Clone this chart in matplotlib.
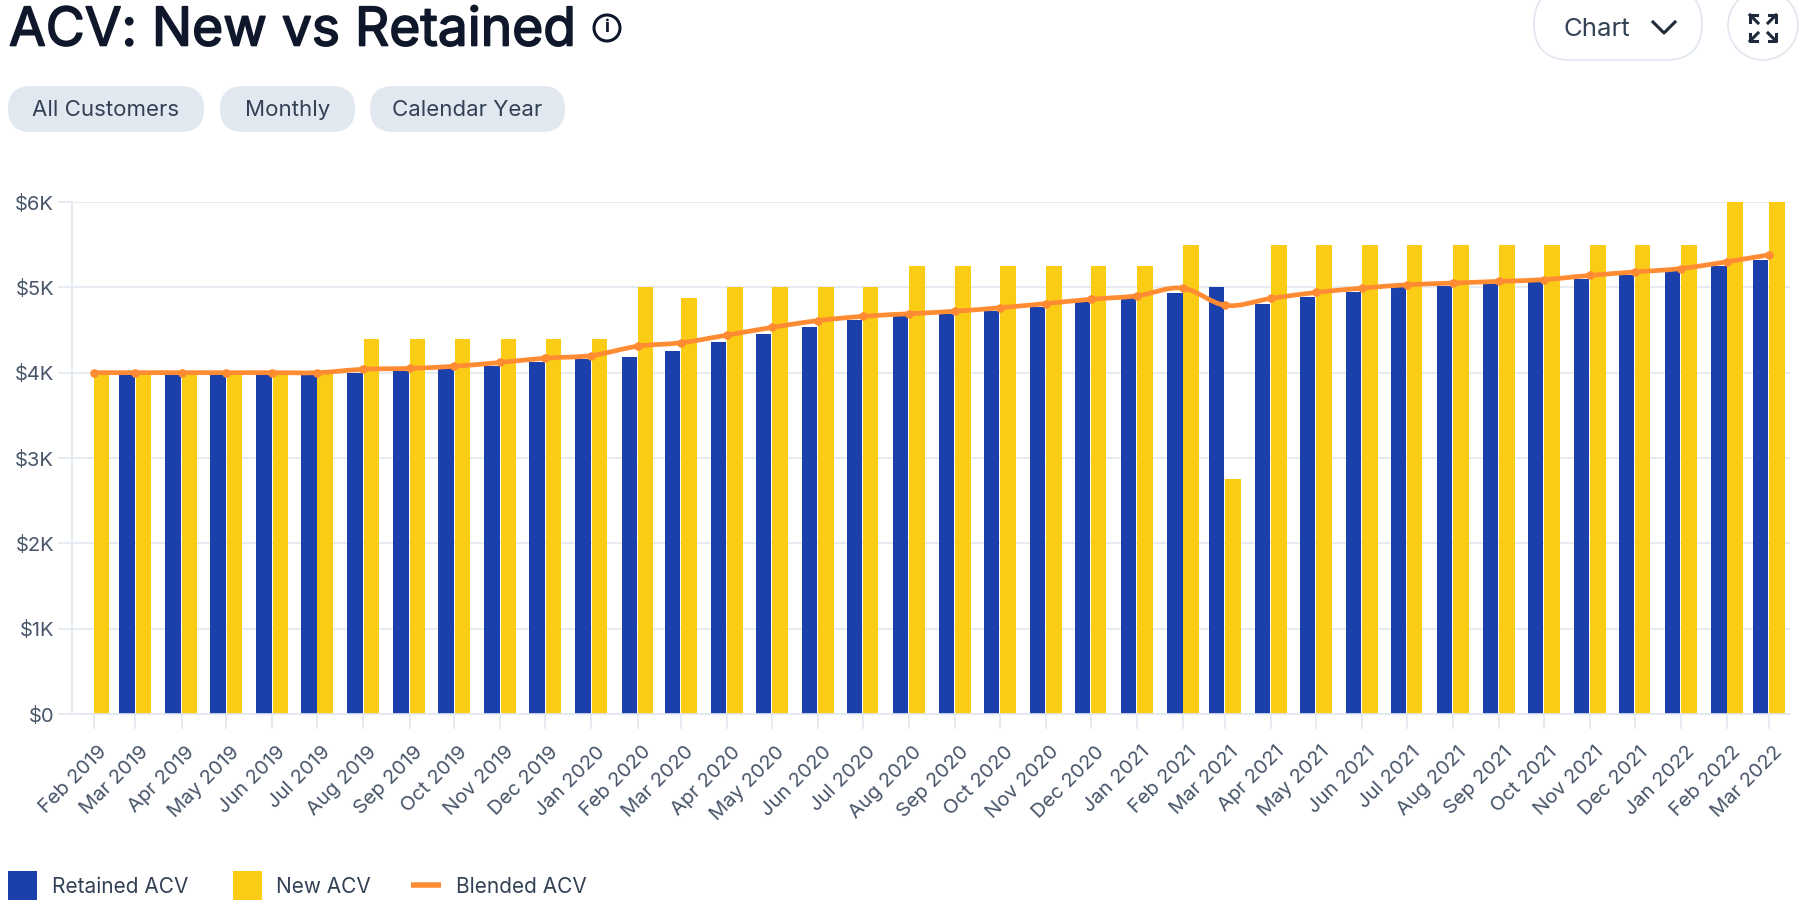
import numpy as np
import pandas as pd
import matplotlib
matplotlib.use('Agg')
import matplotlib.pyplot as plt
import matplotlib.patheffects as pe
from matplotlib.patches import FancyBboxPatch, Circle, Rectangle, PathPatch
from matplotlib.path import Path
from matplotlib.transforms import ScaledTranslation

plt.rcParams['font.family'] = ['Inter', 'DejaVu Sans']

months = ['Feb 2019', 'Mar 2019', 'Apr 2019', 'May 2019', 'Jun 2019', 'Jul 2019', 'Aug 2019', 'Sep 2019',
          'Oct 2019', 'Nov 2019', 'Dec 2019', 'Jan 2020', 'Feb 2020', 'Mar 2020', 'Apr 2020', 'May 2020',
          'Jun 2020', 'Jul 2020', 'Aug 2020', 'Sep 2020', 'Oct 2020', 'Nov 2020', 'Dec 2020', 'Jan 2021',
          'Feb 2021', 'Mar 2021', 'Apr 2021', 'May 2021', 'Jun 2021', 'Jul 2021', 'Aug 2021', 'Sep 2021',
          'Oct 2021', 'Nov 2021', 'Dec 2021', 'Jan 2022', 'Feb 2022', 'Mar 2022']
retained = [0, 3975, 3975, 3975, 3975, 3975, 4000, 4020, 4050, 4080, 4120, 4160, 4180, 4250, 4360, 4450,
            4540, 4620, 4660, 4690, 4720, 4770, 4830, 4870, 4930, 5000, 4810, 4890, 4950, 5000, 5020, 5040,
            5060, 5100, 5150, 5190, 5250, 5320]
new = [4000, 4000, 4000, 4000, 4000, 4000, 4400, 4400, 4400, 4400, 4400, 4400, 5000, 4875, 5000, 5000,
       5000, 5000, 5250, 5250, 5250, 5250, 5250, 5250, 5500, 2750, 5500, 5500, 5500, 5500, 5500, 5500,
       5500, 5500, 5500, 5500, 6000, 6000]
blended = [4000, 4000, 4000, 4000, 4000, 4000, 4040, 4050, 4075, 4120, 4170, 4200, 4310, 4350, 4440, 4530,
           4610, 4660, 4690, 4720, 4760, 4810, 4860, 4900, 4990, 4790, 4870, 4940, 4990, 5030, 5050, 5070,
           5090, 5140, 5180, 5220, 5300, 5380]
yticks = [0, 1000, 2000, 3000, 4000, 5000, 6000]
ytick_labels = ['$0', '$1K', '$2K', '$3K', '$4K', '$5K', '$6K']
filters = ['All Customers', 'Monthly', 'Calendar Year']

BLUE = '#1B3FAB'
YELLOW = '#FACC15'
ORANGE = '#FF8C33'
GRID = '#E2E8F0'
W, H = 1800, 907

fig = plt.figure(figsize=(W / 100, H / 100), dpi=100, facecolor='white')

# chart area, in pixels from the top left
left, right, top, bottom = 72, 1790, 202, 714
ax = fig.add_axes([left / W, 1 - bottom / H, (right - left) / W, (bottom - top) / H])

# the x axis is a real time scale, so Feb is a bit narrower than the other months
dates = pd.to_datetime(months, format='%b %Y')
x = np.array((dates - dates[0]).days, dtype=float)
bar_w = 10.4
ax.bar(x - 5.6, retained, bar_w, color=BLUE, zorder=2)
ax.bar(x + 5.4, new, bar_w, color=YELLOW, zorder=2)


# smooth line through the points
def smooth_path(xs, ys):
    ys = np.asarray(ys, dtype=float)
    verts = [(xs[0], ys[0])]
    codes = [Path.MOVETO]
    slope = np.gradient(ys, xs)
    for i in range(len(xs) - 1):
        k = (xs[i + 1] - xs[i]) / 3
        verts.append((xs[i] + k, ys[i] + k * slope[i]))
        verts.append((xs[i + 1] - k, ys[i + 1] - k * slope[i + 1]))
        verts.append((xs[i + 1], ys[i + 1]))
        codes += [Path.CURVE4] * 3
    return Path(verts, codes)


ax.add_patch(PathPatch(smooth_path(x, blended), fill=False, edgecolor=ORANGE, lw=3.4, zorder=3, clip_on=False))
ax.plot(x, blended, ls='none', marker='o', ms=6.2, color=ORANGE, mew=0, zorder=4, clip_on=False)

ax.set_xlim(x[0] - 14.5, x[-1] + 14.2)
ax.set_ylim(0, 6000)
ax.set_xticks(x)
ax.set_xticklabels(months, rotation=45, ha='right', rotation_mode='anchor', fontsize=14.5, color='#475569')
ax.set_yticks(yticks)
ax.set_yticklabels(ytick_labels, fontsize=14.5, color='#475569')
ax.tick_params(axis='x', length=10.8, width=1.2, color=GRID, pad=10)
ax.tick_params(axis='y', length=10, width=1.2, color=GRID, pad=3)
ax.grid(axis='y', color=GRID, lw=1.2, zorder=0)
ax.set_axisbelow(True)
for side in ['top', 'right']:
    ax.spines[side].set_visible(False)
for side in ['left', 'bottom']:
    ax.spines[side].set_color(GRID)
    ax.spines[side].set_linewidth(1.2)

# nudge the rotated labels right a little
nudge = ScaledTranslation(3 / 72, 0, fig.dpi_scale_trans)
for lab in ax.get_xticklabels():
    lab.set_transform(lab.get_transform() + nudge)

# page furniture drawn in pixel coordinates
ui = fig.add_axes([0, 0, 1, 1], zorder=5)
ui.set_xlim(0, W)
ui.set_ylim(H, 0)
ui.axis('off')
ui.patch.set_alpha(0)

title = ui.text(9, 31, 'ACV: New vs Retained', fontsize=38.4, color='#0F172A', va='center', ha='left')
title.set_path_effects([pe.withStroke(linewidth=1.2, foreground='#0F172A')])
ui.add_patch(Circle((607, 28), 13, fill=False, ec='#0F172A', lw=2.2))
ui.text(607, 28, 'i', fontsize=13, fontweight='bold', color='#0F172A', ha='center', va='center')


def pill(x0, x1, y0, y1, fc, ec='none'):
    r = (y1 - y0) / 2
    ui.add_patch(FancyBboxPatch((x0 + r, y0 + r), x1 - x0 - 2 * r, 0,
                                boxstyle=f'round,pad={r},rounding_size={r}', fc=fc, ec=ec, lw=1.3))


pill_spans = [(8, 204), (220, 355), (370, 565)]
for label, (x0, x1) in zip(filters, pill_spans):
    pill(x0, x1, 86, 132, GRID)
    ui.text((x0 + x1) / 2, 110, label, fontsize=16, color='#334155', ha='center', va='center')

pill(1534, 1702, -12, 60, 'white', GRID)
ui.text(1597, 29, 'Chart', fontsize=18.5, color='#334155', ha='center', va='center')
ui.plot([1653, 1664, 1675], [22, 33, 22], color='#1E293B', lw=2.2)

ui.add_patch(Circle((1763, 25), 35, fc='white', ec=GRID, lw=1.3))
for sx, sy in [(-1, -1), (1, -1), (-1, 1), (1, 1)]:
    cx, cy = 1763 + sx * 5, 28 + sy * 5
    ex, ey = 1763 + sx * 13, 28 + sy * 13
    ui.plot([cx, ex], [cy, ey], color='#1E293B', lw=2.2)
    ui.plot([ex - sx * 7, ex, ex], [ey, ey, ey - sy * 7], color='#1E293B', lw=2.2)

# legend
ui.add_patch(Rectangle((8, 871), 29, 29, fc=BLUE))
ui.text(52, 887, 'Retained ACV', fontsize=15, color='#334155', va='center')
ui.add_patch(Rectangle((233, 871), 29, 29, fc=YELLOW))
ui.text(276, 887, 'New ACV', fontsize=15, color='#334155', va='center')
ui.plot([411, 441], [885, 885], color=ORANGE, lw=4, solid_capstyle='butt')
ui.text(456, 887, 'Blended ACV', fontsize=15, color='#334155', va='center')

fig.savefig('out.png', dpi=100)
